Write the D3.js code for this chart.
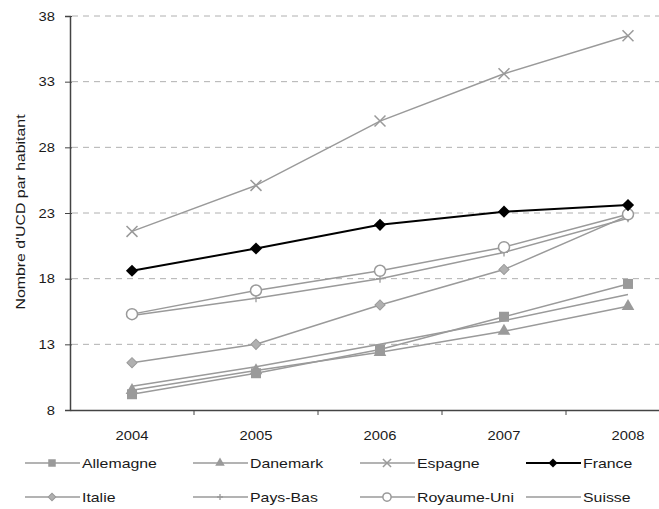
<!DOCTYPE html>
<html><head><meta charset="utf-8">
<script src="https://cdn.jsdelivr.net/npm/d3@7"></script>
<style>body{margin:0;background:#fff}svg{display:block}text{font-family:"Liberation Sans",Arial,sans-serif}</style>
</head><body>
<svg id="c" width="659" height="509"></svg>
<script>
const years = ["2004","2005","2006","2007","2008"];
const yTicks = [8,13,18,23,28,33,38];
const allemagne = [9.2,10.8,12.6,15.1,17.6];
const danemark  = [9.5,11.0,12.4,14.0,15.9];
const espagne   = [21.6,25.1,30.0,33.6,36.5];
const france    = [18.6,20.3,22.1,23.1,23.6];
const italie    = [11.6,13.0,16.0,18.7,22.8];
const paysBas   = [15.2,16.5,18.0,20.0,22.6];
const royaumeUni= [15.3,17.1,18.6,20.4,22.9];
const suisse    = [9.8,11.3,13.0,14.8,16.8];

const series = [
  {name:"Allemagne", values:allemagne, marker:"square"},
  {name:"Danemark", values:danemark, marker:"triangle"},
  {name:"Espagne", values:espagne, marker:"x"},
  {name:"France", values:france, marker:"diamondBlack"},
  {name:"Italie", values:italie, marker:"diamond"},
  {name:"Pays-Bas", values:paysBas, marker:"plus"},
  {name:"Royaume-Uni", values:royaumeUni, marker:"circle"},
  {name:"Suisse", values:suisse, marker:"none"}
];

const svg = d3.select("#c");
const x = d3.scaleBand().domain(years).range([70,690]);
const y = d3.scaleLinear().domain([8,38]).range([410,16]);
const gray = "#9a9a9a";
const txt = "#1a1a1a";
const SX = 1.22;

// stretched text helper: anchor at (px,py)
function stext(g, px, py, str, anchor, sx, size){
  return g.append("text")
    .attr("transform",`translate(${px},${py}) scale(${sx},1)`)
    .attr("text-anchor",anchor).attr("font-size",size).attr("fill",txt).text(str);
}

// gridlines
svg.append("g").selectAll("line").data(yTicks.filter(t=>t>8)).join("line")
  .attr("x1",72).attr("x2",659).attr("y1",d=>y(d)).attr("y2",d=>y(d))
  .attr("stroke","#b0b0b0").attr("stroke-width",1).attr("stroke-dasharray","6,5");

// y axis
const ya = svg.append("g").attr("transform","translate(70,0)")
  .call(d3.axisLeft(y).tickValues(yTicks).tickSize(5).tickFormat(""));
ya.select(".domain").attr("stroke","#444").attr("stroke-width",1.5);
ya.selectAll(".tick line").attr("stroke","#444").attr("x2",-5).attr("x1",2);
const ytl = svg.append("g");
yTicks.forEach(t=>stext(ytl, 55, y(t)+4.5, d3.format("d")(t), "end", 1.18, 12.5));

// x axis
const xa = svg.append("g").attr("transform","translate(0,410)")
  .call(d3.axisBottom(x).tickSize(0).tickFormat(""));
xa.select(".domain").attr("stroke","#444").attr("stroke-width",1.5);
const xtl = svg.append("g");
years.forEach(yr=>stext(xtl, x(yr)+x.bandwidth()/2, 440, yr, "middle", 1.18, 12.5));
// boundary ticks
svg.append("g").selectAll("line").data(years.slice(1)).join("line")
  .attr("x1",d=>x(d)).attr("x2",d=>x(d)).attr("y1",410).attr("y2",415)
  .attr("stroke","#444");

// y label
svg.append("text").attr("transform","translate(25,212) rotate(-90) scale(1.27,1)")
  .attr("text-anchor","middle").attr("font-size",12.5).attr("fill",txt)
  .text("Nombre d'UCD par habitant");

const cx = d => x(d) + x.bandwidth()/2;
const line = d3.line().x((d,i)=>cx(years[i])).y(d=>y(d));

function drawMarker(g, type, px, py, big){
  const s = big ? 1 : 0.75;
  if(type==="square") g.append("rect").attr("x",px-5*s).attr("y",py-5*s).attr("width",10*s).attr("height",10*s).attr("fill",gray);
  else if(type==="triangle") g.append("path").attr("d",d3.symbol(d3.symbolTriangle, 70*s*s)()).attr("transform",`translate(${px},${py})`).attr("fill",gray);
  else if(type==="diamond") g.append("rect").attr("x",-3.6*s).attr("y",-3.6*s).attr("width",7.2*s).attr("height",7.2*s).attr("transform",`translate(${px},${py}) rotate(45)`).attr("fill","#b0b0b0").attr("stroke",gray);
  else if(type==="diamondBlack") g.append("rect").attr("x",-4.3*s).attr("y",-4.3*s).attr("width",8.6*s).attr("height",8.6*s).attr("transform",`translate(${px},${py}) rotate(45)`).attr("fill","#000");
  else if(type==="x") g.append("path").attr("d",d3.symbol(d3.symbolX, 80*s*s)()).attr("transform",`translate(${px},${py})`).attr("fill","none").attr("stroke",gray).attr("stroke-width",1.5);
  else if(type==="plus") g.append("path").attr("d",`M${px-4*s},${py}H${px+4*s}M${px},${py-4*s}V${py+4*s}`).attr("stroke",gray).attr("stroke-width",1.3);
  else if(type==="circle") g.append("circle").attr("cx",px).attr("cy",py).attr("r",5.5*s).attr("fill","#fff").attr("stroke",gray).attr("stroke-width",1.5);
}

// draw series (France last for on top)
const order = [7,1,0,4,5,6,2,3];
order.forEach(i=>{
  const s = series[i];
  const g = svg.append("g");
  g.append("path").datum(s.values).attr("d",line).attr("fill","none")
    .attr("stroke", s.name==="France" ? "#000" : gray)
    .attr("stroke-width", s.name==="France" ? 2 : 1.5);
  s.values.forEach((v,j)=>drawMarker(g, s.marker, cx(years[j]), y(v), true));
});

// legend
const legX = [25,193,360,526];
const legY = [463,497];
series.forEach((s,i)=>{
  const lx = legX[i%4], ly = legY[Math.floor(i/4)];
  const g = svg.append("g");
  g.append("line").attr("x1",lx).attr("x2",lx+55).attr("y1",ly).attr("y2",ly)
    .attr("stroke", s.name==="France" ? "#000" : gray).attr("stroke-width", s.name==="France"?2:1.5);
  drawMarker(g, s.marker, lx+27, ly, false);
  stext(g, lx+57, ly+5, s.name, "start", 1.27, 12.5);
});
</script>
</body></html>
